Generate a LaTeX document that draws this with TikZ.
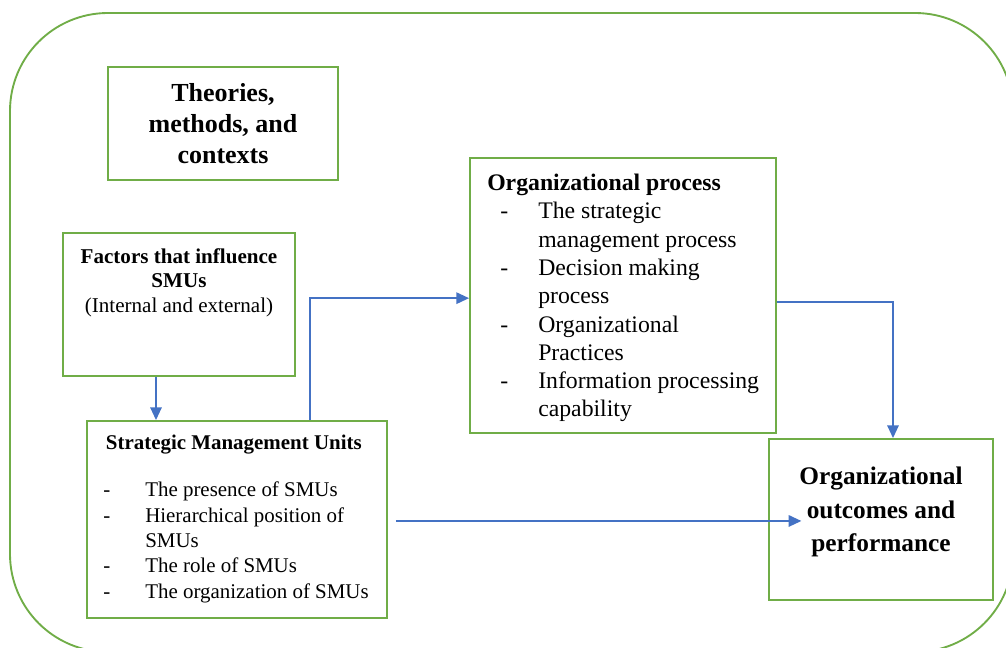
\documentclass[tikz,border=0pt]{standalone}
\usepackage{fontspec}
\setmainfont{Liberation Serif}
\usetikzlibrary{positioning,calc,arrows,arrows.meta}
\definecolor{boxgreen}{RGB}{112,173,71}
\definecolor{linkblue}{RGB}{68,114,196}
\tikzstyle{box} = [draw=boxgreen,line width=1.4pt,rectangle,inner sep=0pt]
\tikzstyle{arrow} = [draw=linkblue,line width=1.4pt,-{Triangle[length=9.5pt,width=8.5pt]}]
\tikzstyle{txt} = [inner sep=0pt,align=left,anchor=north west]
\newcommand{\dashitem}[1]{\makebox[31.5pt][l]{-}#1}
\newcommand{\cont}[1]{\hspace*{31.5pt}#1}

\begin{document}
\begin{tikzpicture}[x=0.75pt,y=0.75pt,yscale=-1,xscale=1]
\useasboundingbox (0,0) rectangle (1006,648);
\clip (0,0) rectangle (1006,648);

% outer frame
\draw [draw=boxgreen,line width=1.4pt,rounded corners=73.5pt] (10,13) rectangle (1013,652);

% boxes
\node [box,minimum width=172.5pt,minimum height=84.75pt,align=center,
  font=\fontsize{19.5}{23.5}\selectfont\bfseries] (theo) at (223,123.5)
  {Theories,\\methods, and\\contexts};
\node [box,minimum width=174pt,minimum height=107.25pt] (fact) at (179,304.5) {};
\node [box,minimum width=225pt,minimum height=147.75pt] (smu) at (237,519.5) {};
\node [box,minimum width=229.5pt,minimum height=206.25pt] (proc) at (623,295.5) {};
\node [box,minimum width=168pt,minimum height=120.75pt] (outc) at (881,519.5) {};

% box texts
\node [inner sep=0pt,align=center,font=\fontsize{19}{25}\selectfont\bfseries]
  (outctxt) at (881,512) {Organizational\\outcomes and\\performance};
\node [inner sep=0pt,align=center,anchor=north,font=\fontsize{15.8}{18.4}\selectfont]
  (facttxt) at (179,248)
  {\textbf{Factors that influence}\\\textbf{SMUs}\\(Internal and external)};
\node [txt,font=\fontsize{15.7}{19.1}\selectfont] (smutxt) at (103,435)
  {\hspace*{2pt}\textbf{Strategic Management Units}\\[16pt]
   \dashitem{The presence of SMUs}\\
   \dashitem{Hierarchical position of}\\
   \cont{SMUs}\\
   \dashitem{The role of SMUs}\\
   \dashitem{The organization of SMUs}};
\node [txt,font=\fontsize{17.8}{21.2}\selectfont] (proctxt) at (487,174)
  {\textbf{Organizational process}\\
   \hspace*{9.75pt}\makebox[28.5pt][l]{-}The strategic\\
   \hspace*{38.25pt}management process\\
   \hspace*{9.75pt}\makebox[28.5pt][l]{-}Decision making\\
   \hspace*{38.25pt}process\\
   \hspace*{9.75pt}\makebox[28.5pt][l]{-}Organizational\\
   \hspace*{38.25pt}Practices\\
   \hspace*{9.75pt}\makebox[28.5pt][l]{-}Information processing\\
   \hspace*{38.25pt}capability};

% links
\draw [arrow] (156,0 |- fact.south) -- (156,0 |- smu.north);
\draw [arrow] (310,0 |- smu.north) |- ([yshift=2pt]proc.west);
\draw [arrow] ([yshift=5pt]proc.east) -| ([xshift=9pt]outc.north);
\draw [arrow] ([xshift=6pt,yshift=1.1pt]smu.east) -- ([xshift=25pt,yshift=1.1pt]outc.west);

\end{tikzpicture}
\end{document}
